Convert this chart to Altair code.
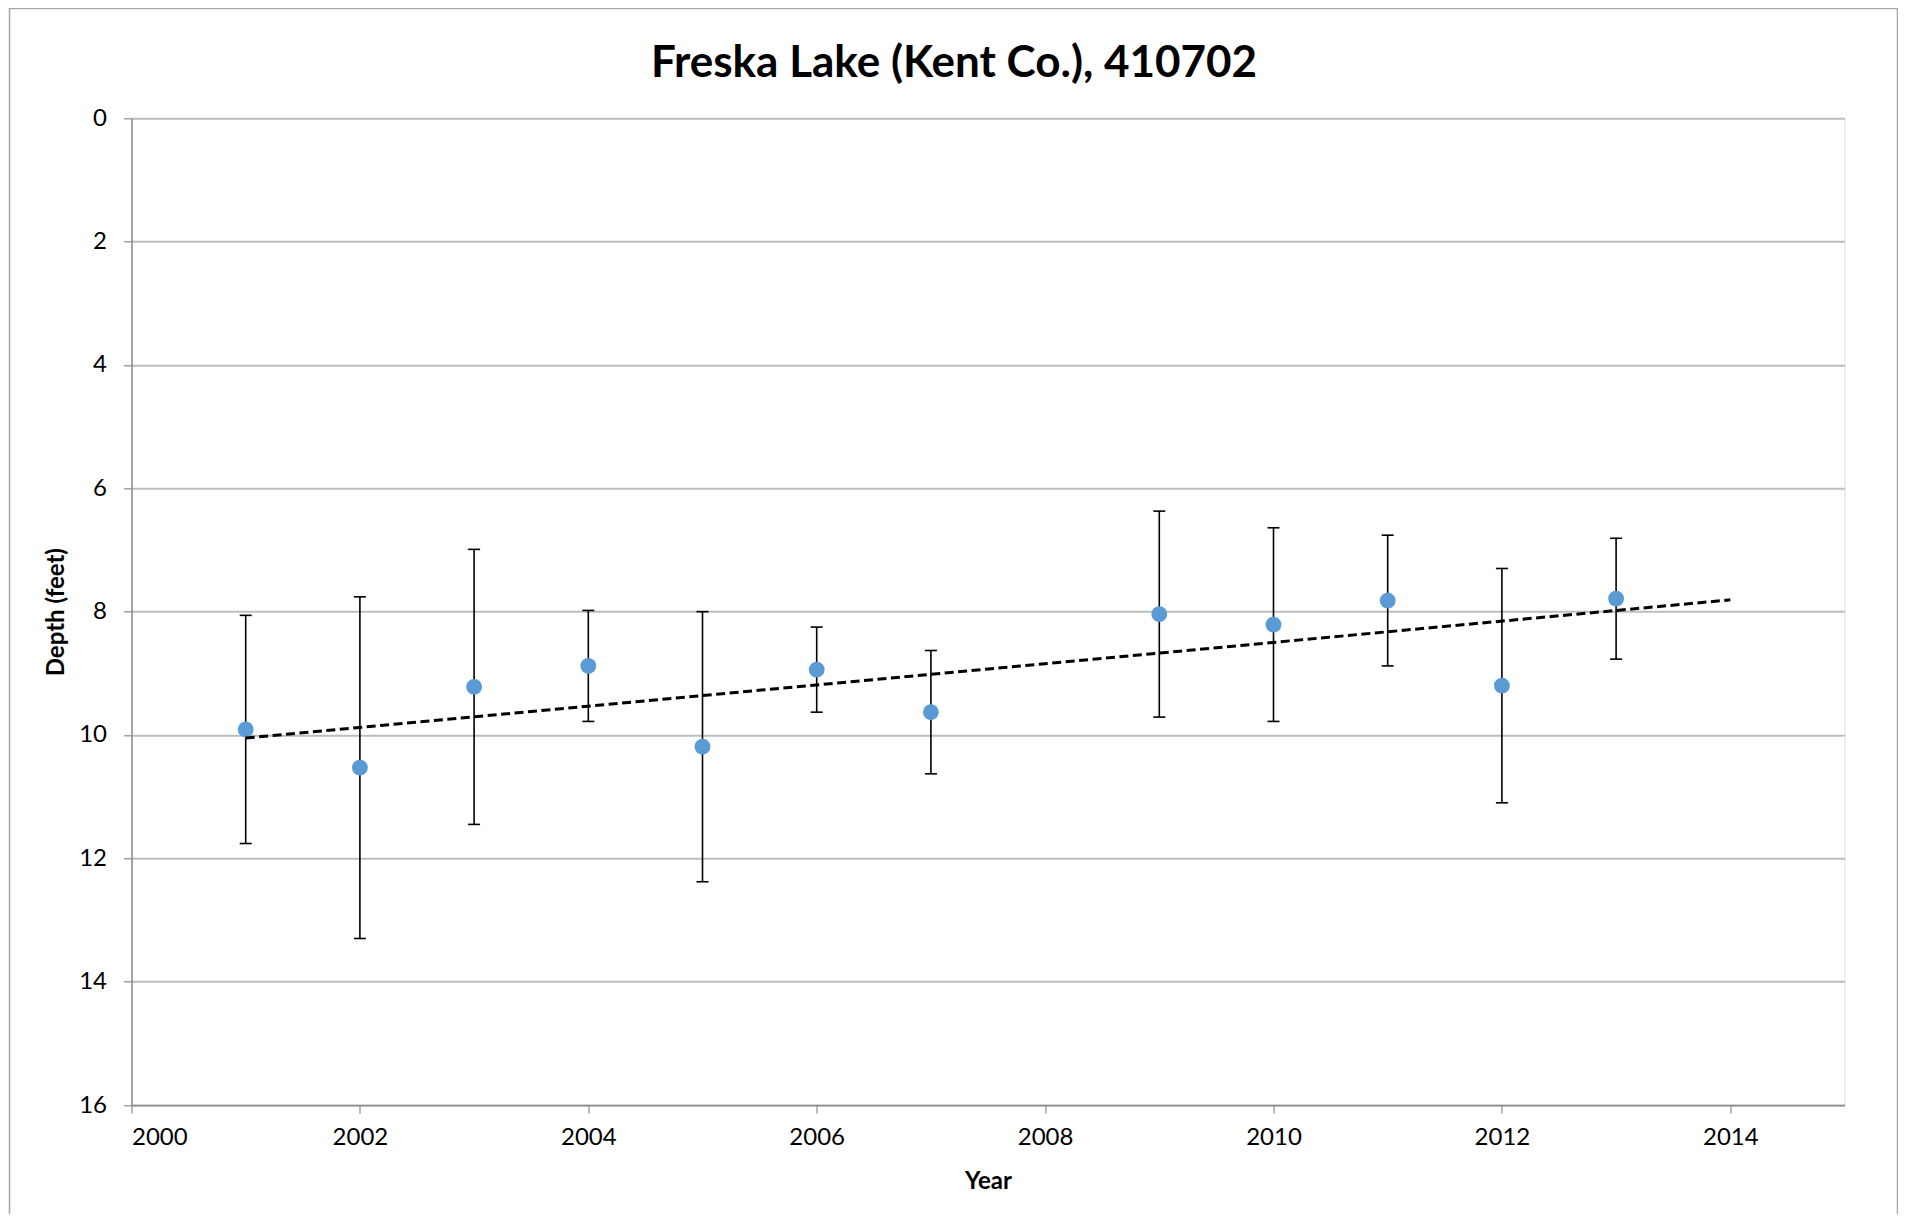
import altair as alt
import pandas as pd

years = [2001, 2002, 2003, 2004, 2005, 2006, 2007, 2009, 2010, 2011, 2012, 2013]
depth = [9.91, 10.53, 9.22, 8.88, 10.19, 8.94, 9.63, 8.04, 8.21, 7.82, 9.20, 7.79]
sd = [1.85, 2.77, 2.23, 0.90, 2.19, 0.69, 1.00, 1.67, 1.57, 1.06, 1.90, 0.98]

x_ticks = [2000, 2002, 2004, 2006, 2008, 2010, 2012, 2014]
y_ticks = [0, 2, 4, 6, 8, 10, 12, 14, 16]

df = pd.DataFrame({"year": years, "depth": depth, "sd": sd})
df["lo"] = df["depth"] - df["sd"]
df["hi"] = df["depth"] + df["sd"]

FONT = "Lato"
W, H = 1713, 986.7

xs = alt.Scale(domain=[2000, 2015], nice=False, zero=False)
ys = alt.Scale(domain=[0, 16], reverse=True, nice=False)

base = alt.Chart(df)

xax = alt.Axis(values=x_ticks, format="d", title="Year", grid=False,
               domainColor="#8c8c8c", domainWidth=1.5, tickColor="#8c8c8c",
               tickWidth=1.2, tickSize=8, labelFont=FONT, labelFontSize=24,
               labelColor="#000", labelPadding=12, titleFont=FONT,
               titleFontSize=24, titleFontWeight="bold", titleColor="#000",
               titleBaseline="alphabetic", titleY=83)
yax = alt.Axis(values=y_ticks, format="d", title="Depth (feet)", grid=True,
               gridColor="#bdbdbd", gridWidth=2,
               domainColor="#8c8c8c", domainWidth=1.5, tickColor="#8c8c8c",
               tickWidth=1.2, tickSize=8, labelFont=FONT, labelFontSize=24,
               labelColor="#000", labelPadding=17, titleFont=FONT,
               titleFontSize=24, titleFontWeight="bold", titleColor="#000",
               titleBaseline="alphabetic", titleX=-68)

bars = base.mark_rule(color="#000", strokeWidth=1.6).encode(
    x=alt.X("year:Q", scale=xs, axis=xax),
    y=alt.Y("lo:Q", scale=ys, axis=yax),
    y2="hi:Q",
)
cap_lo = base.mark_rule(color="#000", strokeWidth=1.6, xOffset=-6, x2Offset=6).encode(
    x=alt.X("year:Q", scale=xs), x2="year:Q", y=alt.Y("lo:Q", scale=ys)
)
cap_hi = base.mark_rule(color="#000", strokeWidth=1.6, xOffset=-6, x2Offset=6).encode(
    x=alt.X("year:Q", scale=xs), x2="year:Q", y=alt.Y("hi:Q", scale=ys)
)
points = base.mark_circle(size=250, color="#5b9bd5", opacity=1).encode(
    x=alt.X("year:Q", scale=xs), y=alt.Y("depth:Q", scale=ys)
)
trend = base.transform_regression("year", "depth", extent=[2001, 2014]).mark_line(
    color="#000", strokeWidth=3, strokeDash=[9, 4.5]
).encode(x=alt.X("year:Q", scale=xs), y=alt.Y("depth:Q", scale=ys))

frame = alt.Chart(pd.DataFrame({"a": [0]})).mark_rect(
    fillOpacity=0, stroke="#a6a6a6", strokeWidth=1.5
).encode(
    x=alt.value(-122), x2=alt.value(1766), y=alt.value(-109.8), y2=alt.value(1130)
)

chart = alt.layer(frame, bars, cap_lo, cap_hi, points, trend).properties(
    width=W, height=H,
    autosize="none",
    padding={"left": 123.5, "top": 110.3, "right": 53.5, "bottom": 109},
    title=alt.TitleParams(
        text="Freska Lake (Kent Co.), 410702", font=FONT, fontSize=44,
        fontWeight="bold", color="#000", anchor="middle", dx=-34,
        baseline="alphabetic", offset=-113,
    ),
).configure_view(stroke=None).configure(background="white")

chart.save("out.html", embed_options={"renderer": "svg", "actions": False})
